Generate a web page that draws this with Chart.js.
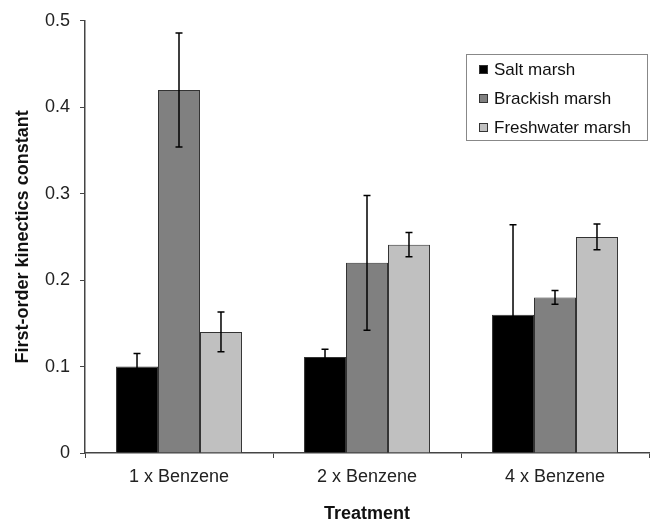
<!DOCTYPE html>
<html lang="en">
<head>
<meta charset="UTF-8">
<title>First-order kinetics constant by treatment</title>
<script src="https://cdn.jsdelivr.net/npm/chart.js"></script>
<style>
    html, body { margin: 0; padding: 0; background: #fff; }
    #wrap { width: 652px; height: 525px; position: relative; }
</style>
</head>
<body>
<div id="wrap"><canvas id="chart"></canvas></div>
<script>
const categories = ['1 x Benzene', '2 x Benzene', '4 x Benzene'];
const seriesNames = ['Salt marsh', 'Brackish marsh', 'Freshwater marsh'];
const saltValues = [0.10, 0.111, 0.16];
const brackishValues = [0.42, 0.22, 0.18];
const freshValues = [0.14, 0.241, 0.25];
const saltErrors = [0.015, 0.009, 0.104];
const brackishErrors = [0.066, 0.078, 0.008];
const freshErrors = [0.023, 0.014, 0.015];
const yTicks = [0, 0.1, 0.2, 0.3, 0.4, 0.5];

const fontFamily = "'Liberation Sans', Arial, sans-serif";
const errors = [saltErrors, brackishErrors, freshErrors];

// error bars, drawn from each bar's value through the y scale
const errorBars = {
    id: 'errorBars',
    afterDatasetsDraw(chart) {
        const ctx = chart.ctx;
        const y = chart.scales.y;
        ctx.save();
        ctx.strokeStyle = '#000';
        ctx.lineWidth = 1.5;
        chart.data.datasets.forEach((ds, i) => {
            chart.getDatasetMeta(i).data.forEach((bar, j) => {
                const v = ds.data[j], e = errors[i][j];
                const top = y.getPixelForValue(v + e);
                const bot = y.getPixelForValue(v - e);
                ctx.beginPath();
                ctx.moveTo(bar.x, top); ctx.lineTo(bar.x, bot);
                ctx.moveTo(bar.x - 3.5, top); ctx.lineTo(bar.x + 3.5, top);
                ctx.moveTo(bar.x - 3.5, bot); ctx.lineTo(bar.x + 3.5, bot);
                ctx.stroke();
            });
        });
        ctx.restore();
    }
};

// boxed legend inside the plot, top right
const boxLegend = {
    id: 'boxLegend',
    afterDraw(chart) {
        const ctx = chart.ctx;
        const x0 = 466, y0 = 54, w = 181, h = 86;
        ctx.save();
        ctx.fillStyle = '#fff';
        ctx.fillRect(x0, y0, w, h);
        ctx.strokeStyle = '#888';
        ctx.lineWidth = 1;
        ctx.strokeRect(x0 + 0.5, y0 + 0.5, w, h);
        ctx.font = '17px ' + fontFamily;
        ctx.textBaseline = 'middle';
        chart.data.datasets.forEach((ds, i) => {
            const cy = y0 + 15 + i * 29;
            ctx.fillStyle = ds.backgroundColor;
            ctx.fillRect(x0 + 13, cy - 4, 9, 9);
            ctx.strokeStyle = '#333';
            ctx.strokeRect(x0 + 13.5, cy - 3.5, 8, 8);
            ctx.fillStyle = '#111';
            ctx.fillText(ds.label, x0 + 28, cy + 1);
        });
        ctx.restore();
    }
};

new Chart(document.getElementById('chart'), {
    type: 'bar',
    data: {
        labels: categories,
        datasets: [
            { label: seriesNames[0], data: saltValues, backgroundColor: '#000000' },
            { label: seriesNames[1], data: brackishValues, backgroundColor: '#808080' },
            { label: seriesNames[2], data: freshValues, backgroundColor: '#c0c0c0' }
        ].map(d => Object.assign(d, {
            borderColor: '#333', borderWidth: 1, borderSkipped: 'bottom',
            categoryPercentage: 0.67, barPercentage: 1
        }))
    },
    options: {
        responsive: true,
        maintainAspectRatio: false,
        animation: false,
        layout: { padding: { top: 20, right: 3, left: 0, bottom: 0 } },
        plugins: { legend: { display: false }, tooltip: { enabled: false } },
        scales: {
            x: {
                grid: { display: true, drawOnChartArea: false, tickLength: 5, color: '#444', offset: true },
                border: { color: '#444', width: 1.5 },
                ticks: { color: '#222', font: { family: fontFamily, size: 18 }, padding: 8 },
                title: { display: true, text: 'Treatment', color: '#111',
                         font: { family: fontFamily, size: 18, weight: 'bold' }, padding: { top: 0, bottom: 0 } },
                afterFit(s) { s.height = 72; }
            },
            y: {
                min: 0, max: 0.5,
                afterBuildTicks(s) { s.ticks = yTicks.map(v => ({ value: v })); },
                grid: { display: true, drawOnChartArea: false, tickLength: 5, color: '#444' },
                border: { color: '#444', width: 1.5 },
                ticks: { color: '#222', font: { family: fontFamily, size: 18 }, padding: 10,
                         callback: v => v === 0 ? '0' : v.toFixed(1) },
                title: { display: true, text: 'First-order kinectics constant', color: '#111',
                         font: { family: fontFamily, size: 18, weight: 'bold' }, padding: { top: 12, bottom: 0 } },
                afterFit(s) { s.width = 85; }
            }
        }
    },
    plugins: [errorBars, boxLegend]
});
</script>
</body>
</html>
